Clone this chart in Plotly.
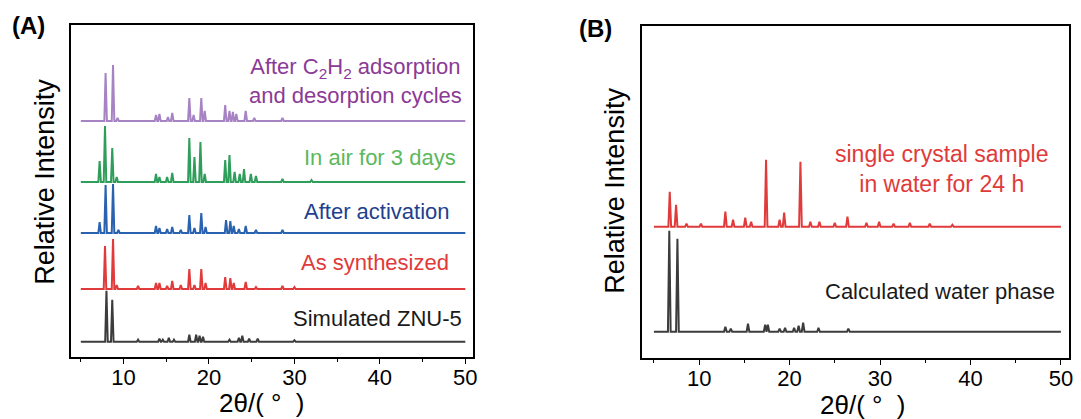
import plotly.graph_objects as go

# ---------------- data ----------------
# Panel A patterns: peak positions (2theta, deg) and relative intensities
simA_pos = [8.0, 8.68, 11.7, 14.2, 14.6, 15.3, 15.9, 17.7, 18.5, 18.9, 19.3, 22.4, 23.5, 23.9, 24.7, 25.7, 30.0]
simA_int = [51, 42, 2, 3, 2, 4, 2, 7, 7, 6, 5, 2, 4, 6, 3, 3, 1.5]

synA_pos = [7.83, 8.77, 9.2, 11.7, 13.8, 14.2, 15.1, 15.7, 16.7, 17.7, 18.3, 19.1, 19.6, 21.9, 22.5, 22.9, 24.3, 25.5, 28.6, 30.0]
synA_int = [43, 50, 4, 3, 6, 6, 3, 8, 4, 20, 4, 20, 6, 12, 11, 6, 7, 2, 3, 2]

actA_pos = [7.2, 7.9, 8.77, 9.4, 13.8, 14.2, 15.1, 15.7, 16.7, 17.7, 18.3, 19.1, 19.6, 22.0, 22.5, 22.9, 23.5, 24.3, 25.5, 28.6]
actA_int = [11, 48, 49, 3, 7, 5, 4, 6, 3, 18, 5, 20, 6, 13, 12, 7, 4, 7, 3, 3]

airA_pos = [7.2, 7.83, 8.68, 9.2, 13.8, 14.2, 15.1, 15.7, 17.7, 18.3, 19.0, 19.5, 21.9, 22.4, 23.0, 23.6, 24.1, 24.9, 25.5, 28.6, 32.0]
airA_int = [21, 56, 34, 5, 8, 5, 5, 9, 44, 25, 40, 8, 22, 27, 10, 8, 13, 8, 6, 3, 2]

cycA_pos = [7.9, 8.77, 9.3, 13.8, 14.2, 15.2, 15.7, 17.7, 18.2, 19.1, 19.5, 21.9, 22.4, 22.8, 23.2, 24.3, 25.3, 28.6]
cycA_int = [48, 56, 3, 6, 7, 4, 8, 23, 6, 23, 10, 16, 10, 9, 7, 10, 3, 3]

# Panel B patterns
calB_pos = [6.7, 7.6, 12.9, 13.5, 15.4, 17.3, 17.6, 18.9, 19.5, 20.5, 21.0, 21.5, 23.2, 26.5]
calB_int = [101, 93, 5, 3, 8, 7, 7, 3, 4, 4, 6, 9, 4, 3]

watB_pos = [6.75, 7.45, 8.6, 10.2, 12.9, 13.75, 15.1, 15.75, 17.4, 18.9, 19.4, 21.2, 22.3, 23.3, 25.0, 26.4, 28.5, 29.9, 31.5, 33.3, 35.5, 38.0]
watB_int = [35, 22, 3, 3, 15, 7, 9, 5, 67, 7, 14, 65, 5, 5, 4, 10, 4, 5, 3, 4, 3, 2]

# stacking offsets (same units as intensity)
offsets_A = {"sim": 15.3, "syn": 68, "act": 124, "air": 175, "cyc": 236}
offsets_B = {"cal": 26.3, "wat": 131.3}

labels_A = ["Simulated ZNU-5", "As synthesized", "After activation", "In air for 3 days",
            "After C<sub>2</sub>H<sub>2</sub> adsorption<br>and desorption cycles"]
labels_B = ["Calculated water phase", "single crystal sample<br>in water for 24 h"]

x_ticks = [10, 20, 30, 40, 50]
x_minor = [5, 15, 25, 35, 45]
x_start, x_end = 5, 50

# ---------------- helpers ----------------
HW = 0.15  # half width of a peak (style)

def profile(pos, inten, base):
    xs, ys = [x_start], [base]
    for p, h in zip(pos, inten):
        xs += [p - HW, p, p + HW]
        ys += [base, base + h, base]
    xs.append(x_end)
    ys.append(base)
    return xs, ys

W, H = 1081, 419
def px(x):
    return x / W
def py(y):
    return 1 - y / H

fig = go.Figure()

line_w = 2
seriesA = [
    (simA_pos, simA_int, offsets_A["sim"], "#3c3c3c"),
    (synA_pos, synA_int, offsets_A["syn"], "#e03a3a"),
    (actA_pos, actA_int, offsets_A["act"], "#2a62b0"),
    (airA_pos, airA_int, offsets_A["air"], "#2f9e5a"),
    (cycA_pos, cycA_int, offsets_A["cyc"], "#a683c2"),
]
for pos, inten, base, col in seriesA:
    xs, ys = profile(pos, inten, base)
    fig.add_trace(go.Scatter(x=xs, y=ys, mode="lines", line=dict(color=col, width=line_w),
                             xaxis="x", yaxis="y", showlegend=False, hoverinfo="skip"))

seriesB = [
    (calB_pos, calB_int, offsets_B["cal"], "#3c3c3c"),
    (watB_pos, watB_int, offsets_B["wat"], "#e03a3a"),
]
for pos, inten, base, col in seriesB:
    xs, ys = profile(pos, inten, base)
    fig.add_trace(go.Scatter(x=xs, y=ys, mode="lines", line=dict(color=col, width=line_w),
                             xaxis="x2", yaxis="y2", showlegend=False, hoverinfo="skip"))

FONT = "Liberation Sans, Arial, sans-serif"
axis_common = dict(
    showline=True, linecolor="black", linewidth=1.6, mirror=True,
    showgrid=False, zeroline=False,
)
xaxis_common = dict(
    axis_common, tickmode="array", tickvals=x_ticks, ticks="outside", ticklen=5,
    tickwidth=1.4, tickcolor="black", ticklabelstandoff=-5,
    tickfont=dict(family=FONT, size=22, color="black"),
    minor=dict(tickmode="array", tickvals=x_minor, ticks="outside",
               ticklen=3, tickwidth=1.2, tickcolor="black"),
)
yaxis_common = dict(axis_common, showticklabels=False, ticks="", range=[0, 332], fixedrange=True)

fig.update_layout(
    width=W, height=H, margin=dict(l=0, r=0, t=0, b=0),
    paper_bgcolor="white", plot_bgcolor="white",
    xaxis=dict(xaxis_common, domain=[px(71), px(475)], range=[3.82, 50.93], anchor="y"),
    yaxis=dict(yaxis_common, domain=[py(357), py(25)], anchor="x"),
    xaxis2=dict(xaxis_common, domain=[px(644), px(1073)], range=[3.64, 50.9], anchor="y2"),
    yaxis2=dict(yaxis_common, domain=[py(358), py(26)], anchor="x2"),
    font=dict(family=FONT, color="black"),
)

ann = []
def add(text, x, y, xa="center", ya="middle", size=22, color="black", angle=0, align="center"):
    ann.append(dict(text=text, x=px(x), y=py(y), xref="paper", yref="paper",
                    xanchor=xa, yanchor=ya, showarrow=False, textangle=angle, align=align,
                    font=dict(family=FONT, size=size, color=color)))

# Panel A labels
add(labels_A[0], 466, 318, xa="right", color="#1a1a1a")
add(labels_A[1], 453, 262, xa="right", color="#e03a3a")
add(labels_A[2], 454, 211, xa="right", color="#1f3f8f")
add(labels_A[3], 460, 157, xa="right", color="#5cb85c")
add(labels_A[4], 357, 81, color="#8b3a96")
# Panel B labels
add(labels_B[0], 1061, 291, xa="right", color="#1a1a1a")
add(labels_B[1], 945, 169, size=23, color="#e03a3a")

# panel tags
add("<b>(A)</b>", 29, 26, size=24)
add("<b>(B)</b>", 598, 28, size=24)

# axis titles
add("Relative Intensity", 45, 182, size=27, angle=-90)
add("Relative Intensity", 617, 191, size=27, angle=-90)
add("2θ/( °  )", 263, 403, size=26)
add("2θ/( °  )", 866, 405, size=26)

fig.update_layout(annotations=ann)
fig.write_html("out.html")
